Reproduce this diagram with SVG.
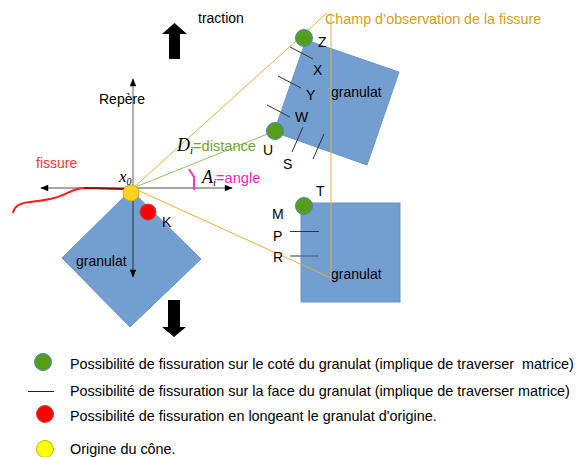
<svg xmlns="http://www.w3.org/2000/svg" width="578" height="457" viewBox="0 0 578 457">
<style>
text{font-family:"Liberation Sans",Arial,sans-serif;fill:#000}
.lbl{font-size:14px}
.leg{font-size:14.4px;white-space:pre}
.gran{fill:#729fcf;stroke:#6a95c6;stroke-width:1}
.green{fill:#579d1c;stroke:#4a86b8;stroke-width:1}
.red{fill:#ff0000;stroke:#d04040;stroke-width:1}
.cone{stroke:#e0b040;stroke-width:1;fill:none}
.tick{stroke:#333;stroke-width:1}
.axis{stroke:#888;stroke-width:1.3;fill:none}
.ital{font-family:"Liberation Serif","Times New Roman",serif;font-style:italic}
</style>
<defs>
<marker id="ah" viewBox="0 0 10 10" refX="9" refY="5" markerWidth="10" markerHeight="8" markerUnits="userSpaceOnUse" orient="auto">
<path d="M0,1 L10,5 L0,9 Z" fill="#000"/>
</marker>
</defs>

<g id="granulat-origine">
<polygon class="gran" points="131,190 201,259 130,327 62,258"/>
<text x="76" y="266" style="font-size:14px">granulat</text>
</g>
<g id="granulat-haut">
<polygon class="gran" points="306,40 399,72 367,165 274,132"/>
<text x="331" y="97" style="font-size:14px">granulat</text>
</g>
<g id="granulat-bas">
<rect class="gran" x="301" y="203" width="99" height="99"/>
<text x="331" y="279" style="font-size:14px">granulat</text>
</g>

<g id="connectors">
<polyline class="cone" points="327,13 133,188 331,278 331,13"/>
<line x1="133" y1="188" x2="275" y2="131" stroke="#8fc060" stroke-width="1"/>
<line class="axis" x1="133" y1="188" x2="133" y2="79" marker-end="url(#ah)"/>
<line x1="133" y1="188" x2="133" y2="277" stroke="#3a4a5a" stroke-width="1.3" marker-end="url(#ah)"/>
<line class="axis" x1="133" y1="188" x2="232" y2="188" marker-end="url(#ah)"/>
<line class="axis" x1="133" y1="188" x2="41" y2="188" marker-end="url(#ah)"/>
<path d="M13,213 C15,200 32,203 50,199 C66,196 70,189 84,188 L128,189" fill="none" stroke="#ff1a1a" stroke-width="2"/>
<path d="M84,188 L128,189" fill="none" stroke="#701010" stroke-width="1.5"/>
<polyline points="189,169 194,177 194,190" fill="none" stroke="#ff33cc" stroke-width="2"/>
<line class="tick" x1="290" y1="47" x2="313" y2="59"/>
<line class="tick" x1="278" y1="76" x2="301" y2="88"/>
<line class="tick" x1="267" y1="105" x2="290" y2="117"/>
<line class="tick" x1="303" y1="127" x2="292" y2="152"/>
<line class="tick" x1="324" y1="134" x2="313" y2="159"/>
<line class="tick" x1="290" y1="231.5" x2="319" y2="231.5"/>
<line x1="290" y1="256" x2="319" y2="256" stroke="#5a6a7a" stroke-width="1.3"/>
</g>

<g id="fleche-haut">
<polygon points="169,59 180,59 180,34 187,34 174.5,23 162,34 169,34" fill="#000"/>
</g>
<g id="fleche-bas">
<polygon points="168,300 180,300 180,327 186,327 174,337 162,327 168,327" fill="#000"/>
</g>

<g id="points">
<circle class="green" cx="304" cy="38" r="8.5"/>
<circle class="green" cx="275" cy="131" r="8.5"/>
<circle class="green" cx="304" cy="206" r="8.5"/>
<circle class="red" cx="148" cy="212" r="8"/>
<circle cx="131" cy="193" r="8" fill="#ffd320" stroke="#e0b000" stroke-width="1"/>
</g>

<g id="labels">
<text x="198" y="23" style="font-size:14px">traction</text>
<text x="99" y="104" style="font-size:14px">Repère</text>
<text x="36" y="168" style="font-size:14px;fill:#ff3333">fissure</text>
<text x="119" y="182" class="ital" style="font-size:17px">x<tspan dy="3" style="font-size:10px">0</tspan></text>
<text x="177" y="151" style="font-size:14.6px;fill:#6aa832"><tspan class="ital" style="font-size:18px;fill:#000">D</tspan><tspan class="ital" dy="3" style="font-size:11px;fill:#000">i</tspan><tspan dy="-3">=distance</tspan></text>
<text x="202" y="183" style="font-size:14.6px;fill:#ff22cc"><tspan class="ital" style="font-size:18px;fill:#000">A</tspan><tspan class="ital" dy="3" style="font-size:11px;fill:#000">i</tspan><tspan dy="-3">=angle</tspan></text>
<text x="325" y="24" style="font-size:14.3px;fill:#d4a020">Champ d’observation de la fissure</text>
<text x="318" y="47" class="lbl">Z</text>
<text x="313" y="75" class="lbl">X</text>
<text x="306" y="100" class="lbl">Y</text>
<text x="295" y="122" class="lbl">W</text>
<text x="263" y="155" class="lbl">U</text>
<text x="283" y="169" class="lbl">S</text>
<text x="162" y="227" class="lbl">K</text>
<text x="316" y="196" class="lbl">T</text>
<text x="272" y="219" class="lbl">M</text>
<text x="273" y="241" class="lbl">P</text>
<text x="273" y="262" class="lbl">R</text>
</g>

<g id="legende">
<circle class="green" cx="43" cy="362" r="8.5"/>
<text x="70" y="369" class="leg" xml:space="preserve">Possibilité de fissuration sur le coté du granulat (implique de traverser  matrice)</text>
<line x1="28" y1="391.5" x2="54" y2="391.5" stroke="#222" stroke-width="1"/>
<text x="70" y="396" class="leg">Possibilité de fissuration sur la face du granulat (implique de traverser matrice)</text>
<circle class="red" cx="45" cy="414" r="8.5"/>
<text x="70" y="421" class="leg">Possibilité de fissuration en longeant le granulat d'origine.</text>
<circle cx="45" cy="449" r="8.5" fill="#ffff00" stroke="#c8b400" stroke-width="1"/>
<text x="70" y="454" class="leg">Origine du cône.</text>
</g>
</svg>
